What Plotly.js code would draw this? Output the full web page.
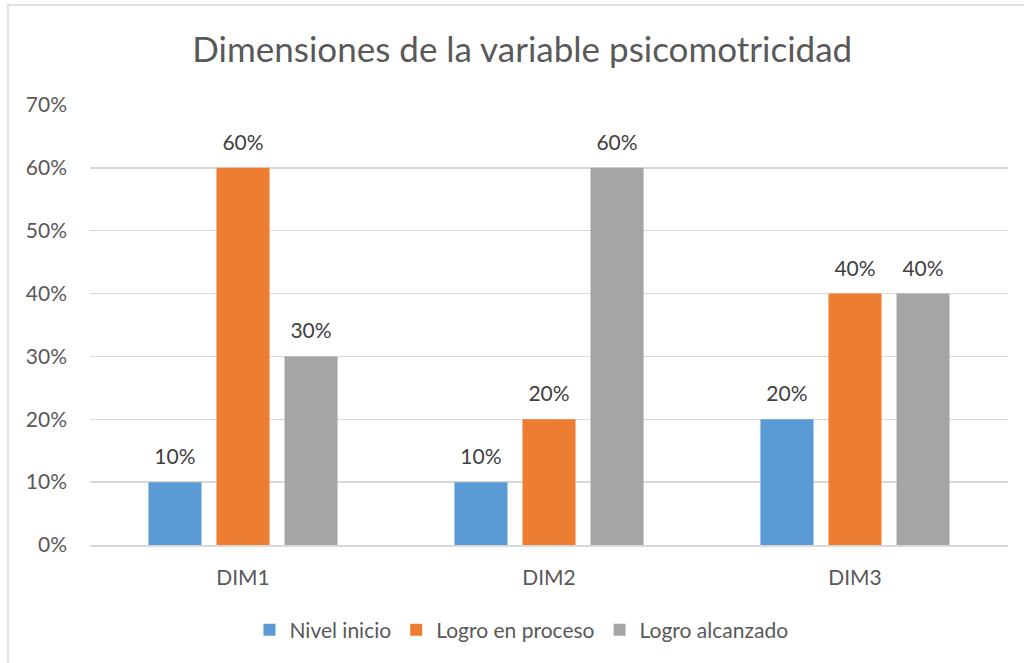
<!DOCTYPE html>
<html>
<head>
<meta charset="utf-8">
<script src="https://cdn.plot.ly/plotly-3.0.1.min.js"></script>
<style>
html,body{margin:0;padding:0;background:#fff;}
#chart{width:1024px;height:663px;}
</style>
</head>
<body>
<div id="chart"></div>
<script>
var categories = ["DIM1", "DIM2", "DIM3"];
var seriesNames = ["Nivel inicio", "Logro en proceso", "Logro alcanzado"];
var nivelInicio = [10, 10, 20];
var logroProceso = [60, 20, 40];
var logroAlcanzado = [30, 60, 40];
var seriesColors = ["#5B9BD5", "#ED7D31", "#A5A5A5"];
var yTickVals = [0, 10, 20, 30, 40, 50, 60, 70];
var yTickText = ["0%", "10%", "20%", "30%", "40%", "50%", "60%", "70%"];

var FONT = "Lato, 'Open Sans', sans-serif";
var seriesValues = [nivelInicio, logroProceso, logroAlcanzado];

var traces = seriesValues.map(function (vals, i) {
  return {
    type: "bar",
    name: seriesNames[i],
    x: categories,
    y: vals,
    marker: { color: seriesColors[i] },
    text: vals.map(function (v) { return '<span style="font-size:21px">' + v + '%</span><br> '; }),
    textposition: "outside",
    textfont: { family: FONT, size: 10, color: "#404040" },
    cliponaxis: false,
    hoverinfo: "x+y+name"
  };
});

var L = 90, R = 16, T = 105, B = 118;
var pw = 1024 - L - R, ph = 663 - T - B;

var layout = {
  width: 1024,
  height: 663,
  margin: { l: L, r: R, t: T, b: B },
  paper_bgcolor: "#ffffff",
  plot_bgcolor: "#ffffff",
  font: { family: FONT, color: "#595959", size: 21 },
  title: {
    text: "Dimensiones de la variable psicomotricidad",
    font: { family: FONT, size: 35, color: "#595959" },
    x: 0.51,
    xanchor: "center",
    y: 1 - 50 / 663,
    yanchor: "middle"
  },
  barmode: "group",
  bargap: 0.333,
  bargroupgap: 0.22,
  uniformtext: { mode: false },
  xaxis: {
    type: "category",
    showgrid: false,
    showline: true,
    linecolor: "#d9d9d9",
    linewidth: 1.5,
    ticks: "",
    ticklabelstandoff: 13,
    tickfont: { family: FONT, size: 21, color: "#595959" },
    zeroline: false
  },
  yaxis: {
    range: [0, 70],
    tickmode: "array",
    tickvals: yTickVals,
    ticktext: yTickText,
    showgrid: true,
    gridcolor: "#d9d9d9",
    gridwidth: 1.3,
    zeroline: false,
    showline: false,
    ticks: "",
    ticklabelstandoff: 22,
    tickfont: { family: FONT, size: 21, color: "#595959" }
  },
  legend: {
    orientation: "h",
    x: 0.47,
    xanchor: "center",
    y: -(630 - 545) / ph,
    yanchor: "middle",
    font: { family: FONT, size: 21, color: "#595959" },
    itemwidth: 30,
    tracegroupgap: 0
  },
  showlegend: true,
  shapes: [{
    type: "rect",
    xref: "paper", yref: "paper",
    x0: (8 - L) / pw, x1: (1040 - L) / pw,
    y0: -(B + 20) / ph, y1: 1 + (T - 5) / ph,
    line: { color: "#d9d9d9", width: 1.5 },
    fillcolor: "rgba(0,0,0,0)",
    layer: "below"
  }]
};

Plotly.newPlot("chart", traces, layout, { displayModeBar: false, staticPlot: true });
</script>
</body>
</html>
